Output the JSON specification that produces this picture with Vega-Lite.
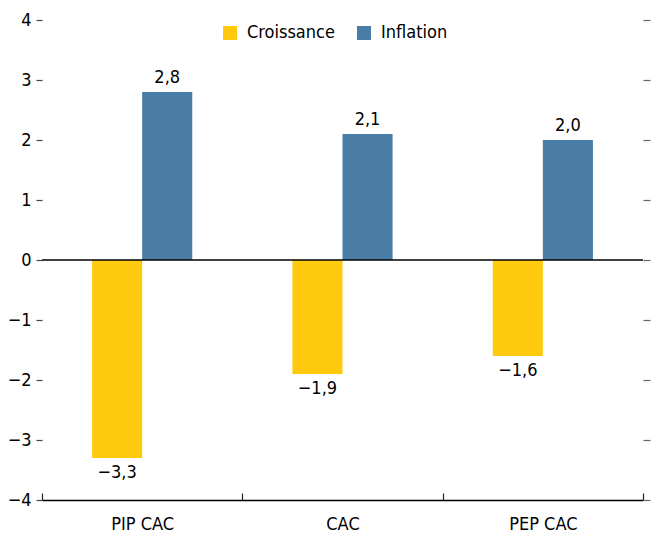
{
  "$schema": "https://vega.github.io/schema/vega-lite/v6.json",
  "width": 601,
  "height": 480,
  "autosize": {"type": "none"},
  "padding": {"left": 42, "top": 20, "right": 8, "bottom": 35},
  "background": "white",
  "config": {
    "locale": {"number": {"decimal": ",", "thousands": " ", "grouping": [3], "currency": ["", " €"], "minus": "−"}},
    "view": {"stroke": null},
    "font": "'DejaVu Sans Condensed', 'Liberation Sans', sans-serif"
  },
  "data": {
    "values": [
      {"cat": "PIP CAC", "series": "Croissance", "value": -3.3},
      {"cat": "PIP CAC", "series": "Inflation", "value": 2.8},
      {"cat": "CAC", "series": "Croissance", "value": -1.9},
      {"cat": "CAC", "series": "Inflation", "value": 2.1},
      {"cat": "PEP CAC", "series": "Croissance", "value": -1.6},
      {"cat": "PEP CAC", "series": "Inflation", "value": 2.0}
    ]
  },
  "layer": [
    {
      "mark": {"type": "bar"},
      "encoding": {
        "x": {
          "field": "cat", "type": "nominal", "sort": ["PIP CAC", "CAC", "PEP CAC"],
          "scale": {"paddingInner": 0, "paddingOuter": 0},
          "axis": {
            "title": null, "orient": "bottom", "labelAngle": 0,
            "domain": true, "domainColor": "black", "domainWidth": 1.3,
            "tickBand": "extent", "tickSize": -7, "tickColor": "#222", "tickWidth": 1.2,
            "labelFontSize": 18, "labelColor": "black", "labelPadding": 22, "labelBaseline": "top"
          }
        },
        "xOffset": {"field": "series", "sort": ["Croissance", "Inflation"], "scale": {"paddingInner": 0, "paddingOuter": 1}},
        "y": {
          "field": "value", "type": "quantitative",
          "scale": {"domain": [-4, 4], "nice": false, "zero": false},
          "axis": {
            "title": null, "orient": "left", "values": [-4, -3, -2, -1, 0, 1, 2, 3, 4],
            "domain": false, "grid": false, "tickSize": 6, "tickColor": "#444", "tickWidth": 1.2,
            "labelFontSize": 18, "labelColor": "black", "labelPadding": 5, "format": "d"
          }
        },
        "color": {
          "field": "series", "type": "nominal",
          "scale": {"domain": ["Croissance", "Inflation"], "range": ["#FFC90E", "#4A7DA6"]},
          "legend": {
            "title": null, "orient": "none", "legendX": 179, "legendY": 4, "direction": "horizontal",
            "symbolType": "square", "symbolSize": 196, "symbolStrokeWidth": 0, "symbolOpacity": 1,
            "labelFontSize": 18, "labelColor": "black", "labelOffset": 8, "columnPadding": 20
          }
        }
      }
    },
    {
      "transform": [{"filter": "datum.value > 0"}],
      "mark": {"type": "text", "baseline": "bottom", "dy": -5, "fontSize": 18, "color": "black"},
      "encoding": {
        "x": {"field": "cat", "type": "nominal", "sort": ["PIP CAC", "CAC", "PEP CAC"]},
        "xOffset": {"field": "series", "sort": ["Croissance", "Inflation"]},
        "y": {"field": "value", "type": "quantitative", "axis": null},
        "text": {"field": "value", "type": "quantitative", "format": ".1f"}
      }
    },
    {
      "transform": [{"filter": "datum.value < 0"}],
      "mark": {"type": "text", "baseline": "top", "dy": 6, "fontSize": 18, "color": "black"},
      "encoding": {
        "x": {"field": "cat", "type": "nominal", "sort": ["PIP CAC", "CAC", "PEP CAC"]},
        "xOffset": {"field": "series", "sort": ["Croissance", "Inflation"]},
        "y": {"field": "value", "type": "quantitative", "axis": null},
        "text": {"field": "value", "type": "quantitative", "format": ".1f"}
      }
    },
    {
      "data": {"values": [{"v": 0}]},
      "mark": {"type": "rule", "color": "black", "strokeWidth": 1.3},
      "encoding": {
        "y": {
          "field": "v", "type": "quantitative",
          "axis": {
            "title": null, "orient": "right", "values": [-4, -3, -2, -1, 0, 1, 2, 3, 4],
            "labels": false, "domain": false, "grid": false, "tickSize": 7, "tickColor": "#666", "tickWidth": 1.2
          }
        }
      }
    }
  ],
  "resolve": {"axis": {"y": "independent"}}
}
